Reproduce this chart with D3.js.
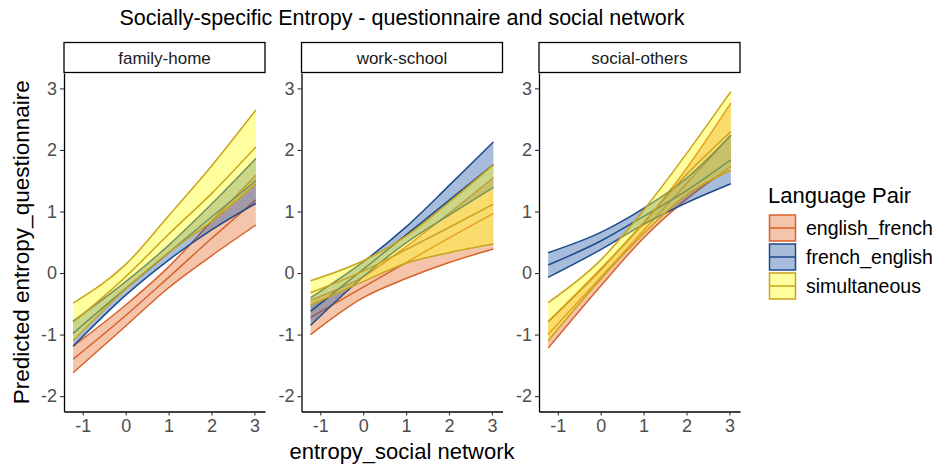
<!DOCTYPE html>
<html><head><meta charset="utf-8">
<script src="https://cdn.jsdelivr.net/npm/d3@7"></script>
<style>body{margin:0;background:#fff} svg{display:block;font-family:"Liberation Sans",Arial,sans-serif}</style>
</head><body><svg id="c" width="939" height="465"></svg>
<script>
const facets = ["family-home", "work-school", "social-others"];
const groups = ["english_french", "french_english", "simultaneous"];
const xGrid = [-1.225, 0, 1, 2, 3.034];
const xTicks = [-1, 0, 1, 2, 3];
const yTicks = [-2, -1, 0, 1, 2, 3];
const yLimits = [-2, 3];

// one row per facet (family-home, work-school, social-others), values at xGrid
const englishFrenchFit   = [[-1.40, -0.69, -0.07, 0.56, 1.19], [-0.72, -0.23, 0.17, 0.57, 0.97], [-1.00, -0.07, 0.69, 1.45, 2.24]];
const englishFrenchLower = [[-1.62, -0.86, -0.24, 0.28, 0.78], [-1.00, -0.40, -0.09, 0.17, 0.39], [-1.22, -0.21, 0.57, 1.20, 1.73]];
const englishFrenchUpper = [[-1.19, -0.52, 0.10, 0.84, 1.59], [-0.44, -0.06, 0.43, 0.97, 1.55], [-0.79, 0.07, 0.81, 1.70, 2.76]];

const frenchEnglishFit   = [[-0.98, -0.25, 0.33, 0.91, 1.50], [-0.62, 0.06, 0.62, 1.18, 1.76], [0.13, 0.52, 0.92, 1.34, 1.84]];
const frenchEnglishLower = [[-1.19, -0.36, 0.21, 0.70, 1.13], [-0.85, -0.06, 0.49, 0.94, 1.39], [-0.07, 0.38, 0.79, 1.14, 1.45]];
const frenchEnglishUpper = [[-0.78, -0.14, 0.45, 1.12, 1.86], [-0.40, 0.18, 0.75, 1.42, 2.13], [0.33, 0.66, 1.05, 1.54, 2.24]];

const simultaneousFit    = [[-0.80, -0.06, 0.63, 1.29, 2.05], [-0.32, 0.03, 0.38, 0.74, 1.12], [-0.79, 0.05, 0.82, 1.60, 2.30]];
const simultaneousLower  = [[-1.10, -0.26, 0.33, 0.84, 1.45], [-0.52, -0.14, 0.16, 0.33, 0.47], [-1.10, -0.10, 0.64, 1.27, 1.67]];
const simultaneousUpper  = [[-0.49, 0.14, 0.93, 1.74, 2.65], [-0.125, 0.20, 0.60, 1.15, 1.76], [-0.48, 0.21, 1.02, 1.94, 2.95]];

const seriesTable = {
  english_french: {fit: englishFrenchFit, lower: englishFrenchLower, upper: englishFrenchUpper},
  french_english: {fit: frenchEnglishFit, lower: frenchEnglishLower, upper: frenchEnglishUpper},
  simultaneous:   {fit: simultaneousFit, lower: simultaneousLower, upper: simultaneousUpper}
};
const lineColor = d3.scaleOrdinal().domain(groups).range(["#D8612A", "#1C4A8A", "#C9A31A"]);
const fillColor = d3.scaleOrdinal().domain(groups).range(["#E76F2D", "#245AA5", "#FFFF10"]);
const fillOpacity = 0.4;

const svg = d3.select("#c");
const panelW = 201, panelTop = 73, panelBottom = 411.5;
const panelLefts = [64, 301.5, 539];
const xExt = d3.extent(xGrid), xPad = 0.05 * (xExt[1] - xExt[0]);
const yPad = 0.05 * (yLimits[1] - yLimits[0]);
const y = d3.scaleLinear().domain([yLimits[0] - yPad, yLimits[1] + yPad]).range([panelBottom, panelTop]);
const curve = d3.curveMonotoneX;

facets.forEach((f, fi) => {
  const left = panelLefts[fi];
  const x = d3.scaleLinear().domain([xExt[0] - xPad, xExt[1] + xPad]).range([left, left + panelW]);
  const g = svg.append("g");
  groups.forEach(grp => {
    const s = seriesTable[grp];
    const pts = xGrid.map((xv, i) => ({x: xv, fit: s.fit[fi][i], lo: s.lower[fi][i], hi: s.upper[fi][i]}));
    g.append("path").datum(pts)
      .attr("d", d3.area().x(d => x(d.x)).y0(d => y(d.lo)).y1(d => y(d.hi)).curve(curve))
      .attr("fill", fillColor(grp)).attr("fill-opacity", fillOpacity).attr("stroke", "none");
    ["lo", "hi", "fit"].forEach(k => {
      g.append("path").datum(pts)
        .attr("d", d3.line().x(d => x(d.x)).y(d => y(d[k])).curve(curve))
        .attr("fill", "none").attr("stroke", lineColor(grp)).attr("stroke-width", 1.5);
    });
  });
  // axes
  const ax = svg.append("g").attr("transform", `translate(0,${panelBottom})`)
    .call(d3.axisBottom(x).tickValues(xTicks).tickSize(4).tickSizeOuter(0).tickPadding(4).tickFormat(d => String(d)));
  const ay = svg.append("g").attr("transform", `translate(${left},0)`)
    .call(d3.axisLeft(y).tickValues(yTicks).tickSize(4).tickSizeOuter(0).tickPadding(3).tickFormat(d => String(d)));
  [ax, ay].forEach(a => {
    a.select(".domain").attr("stroke", "#000").attr("stroke-width", 1.3);
    a.selectAll(".tick line").attr("stroke", "#333").attr("stroke-width", 1.1);
    a.selectAll(".tick text").attr("fill", "#4D4D4D").style("font-size", "18px").style("font-family", "Liberation Sans, Arial, sans-serif");
  });
  // strip
  svg.append("rect").attr("x", left).attr("y", 42.5).attr("width", panelW).attr("height", 30)
    .attr("fill", "#fff").attr("stroke", "#000").attr("stroke-width", 1.3);
  svg.append("text").attr("x", left + panelW / 2).attr("y", 63.5).attr("text-anchor", "middle")
    .style("font-size", "17px").attr("fill", "#1A1A1A").text(f);
});

svg.append("text").attr("x", 402).attr("y", 25).attr("text-anchor", "middle")
  .style("font-size", "21.5px").attr("fill", "#000").text("Socially-specific Entropy - questionnaire and social network");
svg.append("text").attr("x", 402).attr("y", 459).attr("text-anchor", "middle")
  .style("font-size", "22px").attr("fill", "#000").text("entropy_social network");
svg.append("text").attr("transform", `translate(29,${(panelTop + panelBottom) / 2}) rotate(-90)`).attr("text-anchor", "middle")
  .style("font-size", "22.5px").attr("fill", "#000").text("Predicted entropy_questionnaire");

// legend
const lg = svg.append("g");
lg.append("text").attr("x", 768).attr("y", 203).style("font-size", "22px").attr("fill", "#000").text("Language Pair");
groups.forEach((grp, i) => {
  const ky = 215 + i * 29;
  lg.append("rect").attr("x", 769.5).attr("y", ky).attr("width", 26).attr("height", 26)
    .attr("fill", fillColor(grp)).attr("fill-opacity", fillOpacity).attr("stroke", lineColor(grp)).attr("stroke-width", 1.5);
  lg.append("line").attr("x1", 769.5).attr("x2", 795.5).attr("y1", ky + 13).attr("y2", ky + 13)
    .attr("stroke", lineColor(grp)).attr("stroke-width", 1.5);
  lg.append("text").attr("x", 806).attr("y", ky + 13).attr("dy", "0.35em").style("font-size", "19.5px").attr("fill", "#000").text(grp);
});
</script></body></html>
